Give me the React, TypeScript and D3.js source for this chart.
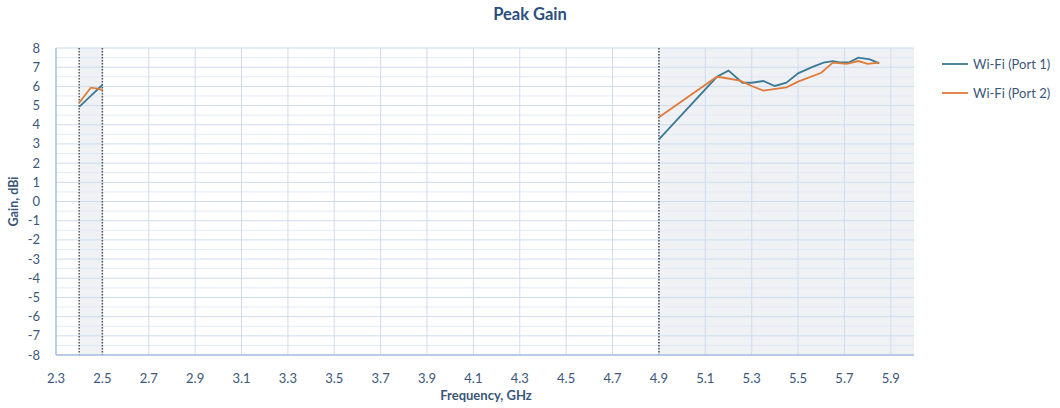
import React from "react";
import * as d3 from "d3";

const freqBand1 = [2.4, 2.45, 2.48, 2.5];
const port1Band1 = [4.93, 5.5, 5.85, 6.07];
const port2Band1 = [5.15, 5.93, 5.88, 5.8];

const freqBand2Port1 = [4.9, 5.15, 5.2, 5.26, 5.3, 5.35, 5.4, 5.45, 5.5, 5.56, 5.61, 5.65, 5.68, 5.72, 5.76, 5.81, 5.85];
const port1Band2 = [3.24, 6.5, 6.82, 6.19, 6.19, 6.28, 6.02, 6.19, 6.68, 7.0, 7.24, 7.32, 7.25, 7.25, 7.5, 7.41, 7.2];

const freqBand2Port2 = [4.9, 5.15, 5.18, 5.25, 5.3, 5.35, 5.45, 5.5, 5.6, 5.65, 5.71, 5.76, 5.8, 5.85];
const port2Band2 = [4.39, 6.5, 6.45, 6.3, 6.02, 5.78, 5.95, 6.25, 6.71, 7.24, 7.17, 7.32, 7.17, 7.24];

const xTicks = [2.3, 2.5, 2.7, 2.9, 3.1, 3.3, 3.5, 3.7, 3.9, 4.1, 4.3, 4.5, 4.7, 4.9, 5.1, 5.3, 5.5, 5.7, 5.9];
const yTicks = d3.range(-8, 9, 1);
const bands = [[2.4, 2.5], [4.9, 6.0]];
const markers = [2.4, 2.5, 4.9];

const seriesNames = ["Wi-Fi (Port 1)", "Wi-Fi (Port 2)"];
const seriesColors = ["#3d7a96", "#e07b39"];

export default function App() {
  const W = 1060, H = 408;
  const left = 56, right = 914, top = 48, bottom = 355;
  const x = d3.scaleLinear().domain([2.3, 6.0]).range([left, right]);
  const y = d3.scaleLinear().domain([-8, 8]).range([bottom, top]);
  const line = d3.line<[number, number]>().x(d => x(d[0])).y(d => y(d[1]));
  const font = "Lato, 'Open Sans', sans-serif";
  const labelColor = "#3b5679";

  const s1 = [freqBand1.map((f, i) => [f, port1Band1[i]]), freqBand2Port1.map((f, i) => [f, port1Band2[i]])];
  const s2 = [freqBand1.map((f, i) => [f, port2Band1[i]]), freqBand2Port2.map((f, i) => [f, port2Band2[i]])];

  const minorY = d3.range(-7.5, 8, 1);

  return (
    <svg width={W} height={H} style={{ position: "absolute", left: 0, top: 0, background: "#fff" }} fontFamily={font}>
      <text x={530} y={20} textAnchor="middle" fontWeight="bold" fontSize={16.5} fill="#2b4d80">Peak Gain</text>
      {bands.map((b, i) => (
        <rect key={i} x={x(b[0])} y={top} width={x(b[1]) - x(b[0])} height={bottom - top} fill="#eff1f5" />
      ))}
      {minorY.map(v => (
        <line key={"m" + v} x1={left} x2={right} y1={y(v)} y2={y(v)} stroke="#e3eaf5" strokeWidth={1} />
      ))}
      {yTicks.map(v => (
        <line key={"g" + v} x1={left} x2={right} y1={y(v)} y2={y(v)} stroke="#cfdcee" strokeWidth={1} />
      ))}
      {xTicks.filter(v => v > 2.31).map(v => (
        <line key={"v" + v} x1={x(v)} x2={x(v)} y1={top} y2={bottom} stroke="#cfdcee" strokeWidth={1} />
      ))}
      {markers.map(v => (
        <line key={"d" + v} x1={x(v)} x2={x(v)} y1={top} y2={bottom} stroke="#555" strokeWidth={1.5} strokeDasharray="1.5,1.5" />
      ))}
      <line x1={left} x2={left} y1={top} y2={bottom} stroke="#a8c0e0" strokeWidth={1.5} />
      <line x1={left} x2={right} y1={bottom} y2={bottom} stroke="#a8c0e0" strokeWidth={1.5} />
      {yTicks.map(v => (
        <text key={"yl" + v} x={40} y={y(v) + 4.5} textAnchor="end" fontSize={13} fill={labelColor}>{v}</text>
      ))}
      {xTicks.map(v => (
        <text key={"xl" + v} x={x(v)} y={383} textAnchor="middle" fontSize={13} fill={labelColor}>{v.toFixed(1)}</text>
      ))}
      <text x={486} y={400} textAnchor="middle" fontWeight="bold" fontSize={13} fill={labelColor}>Frequency, GHz</text>
      <text transform={`translate(18,${(top + bottom) / 2}) rotate(-90)`} textAnchor="middle" fontWeight="bold" fontSize={12.5} fill={labelColor}>Gain, dBi</text>
      {s1.map((seg, i) => (
        <path key={"p1" + i} d={line(seg as [number, number][]) || ""} fill="none" stroke={seriesColors[0]} strokeWidth={1.8} />
      ))}
      {s2.map((seg, i) => (
        <path key={"p2" + i} d={line(seg as [number, number][]) || ""} fill="none" stroke={seriesColors[1]} strokeWidth={1.8} />
      ))}
      {seriesNames.map((n, i) => (
        <g key={n} transform={`translate(942,${64 + i * 29})`}>
          <line x1={0} x2={26} y1={0} y2={0} stroke={seriesColors[i]} strokeWidth={1.8} />
          <text x={31} y={4.5} fontSize={13} fill={labelColor}>{n}</text>
        </g>
      ))}
    </svg>
  );
}
